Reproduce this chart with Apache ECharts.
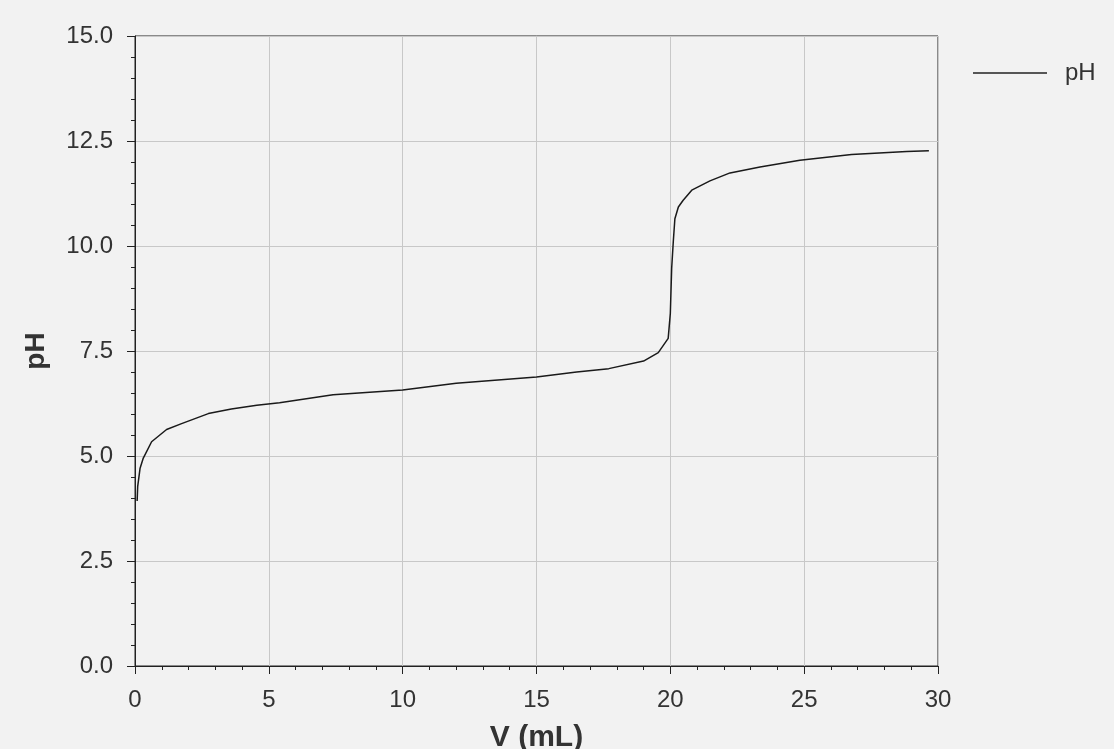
<!DOCTYPE html>
<html>
<head>
<meta charset="utf-8">
<script src="https://cdn.jsdelivr.net/npm/echarts@6/dist/echarts.min.js"></script>
<style>
  html, body { margin: 0; padding: 0; background: #f2f2f2; }
  #chart { width: 1114px; height: 749px; }
</style>
</head>
<body>
<div id="chart"></div>
<script>
const volume = [0.08, 0.10, 0.19, 0.31, 0.62, 1.18, 1.74, 2.74, 3.6, 4.55, 5.4, 7.4, 10.0, 12.0, 15.0, 16.5, 17.7, 19.0, 19.55, 19.92, 20.0, 20.05, 20.11, 20.17, 20.3, 20.48, 20.8, 21.48, 22.23, 23.35, 24.84, 26.77, 28.83, 29.66];
const pH = [3.93, 4.27, 4.71, 4.95, 5.34, 5.63, 5.77, 6.01, 6.12, 6.21, 6.27, 6.46, 6.57, 6.73, 6.88, 7.00, 7.08, 7.26, 7.46, 7.80, 8.40, 9.47, 10.10, 10.65, 10.93, 11.09, 11.33, 11.55, 11.74, 11.88, 12.04, 12.18, 12.25, 12.27];
const seriesName = 'pH';
const xTitle = 'V (mL)';
const yTitle = 'pH';

const points = volume.map((v, i) => [v, pH[i]]);
const font = 'Liberation Sans, Arial, sans-serif';
const chart = echarts.init(document.getElementById('chart'), null, { renderer: 'canvas' });
chart.setOption({
  backgroundColor: '#f2f2f2',
  animation: false,
  grid: { left: 135, right: 176, top: 36, bottom: 83, containLabel: false, outerBoundsMode: 'none', show: true, borderColor: '#222', borderWidth: 1, backgroundColor: 'transparent' },
  legend: {
    data: [{ name: seriesName, icon: 'rect' }], left: 973, top: 61, padding: 0,
    itemWidth: 74, itemHeight: 1.5, itemGap: 10,
    itemStyle: { color: '#222' },
    textStyle: { fontFamily: font, fontSize: 24, color: '#333', padding: [0, 0, 0, 13] }
  },
  xAxis: {
    type: 'value', min: 0, max: 30, interval: 5,
    name: xTitle, nameLocation: 'middle', nameGap: 57,
    nameTextStyle: { fontFamily: font, fontSize: 30, fontWeight: 'bold', color: '#333' },
    axisLine: { show: true, lineStyle: { color: '#222', width: 1 } },
    axisTick: { show: true, inside: false, length: 8, lineStyle: { color: '#222' } },
    minorTick: { show: true, splitNumber: 5, length: 4, lineStyle: { color: '#222' } },
    splitLine: { show: true, lineStyle: { color: '#c8c8c8', width: 1 } },
    axisLabel: { fontFamily: font, fontSize: 24, color: '#333', margin: 22 }
  },
  yAxis: {
    type: 'value', min: 0, max: 15, interval: 2.5,
    name: yTitle, nameLocation: 'middle', nameGap: 85, nameRotate: 90,
    nameTextStyle: { fontFamily: font, fontSize: 28, fontWeight: 'bold', color: '#333' },
    axisLine: { show: true, lineStyle: { color: '#222', width: 1 } },
    axisTick: { show: true, inside: false, length: 8, lineStyle: { color: '#222' } },
    minorTick: { show: true, splitNumber: 5, length: 4, lineStyle: { color: '#222' } },
    splitLine: { show: true, lineStyle: { color: '#c8c8c8', width: 1 } },
    axisLabel: { fontFamily: font, fontSize: 24, color: '#333', margin: 22, formatter: v => v.toFixed(1) }
  },
  series: [{
    name: seriesName, type: 'line', data: points, symbol: 'none', smooth: false,
    lineStyle: { color: '#1a1a1a', width: 1.5 }, itemStyle: { color: '#1a1a1a' }
  }]
});
</script>
</body>
</html>
